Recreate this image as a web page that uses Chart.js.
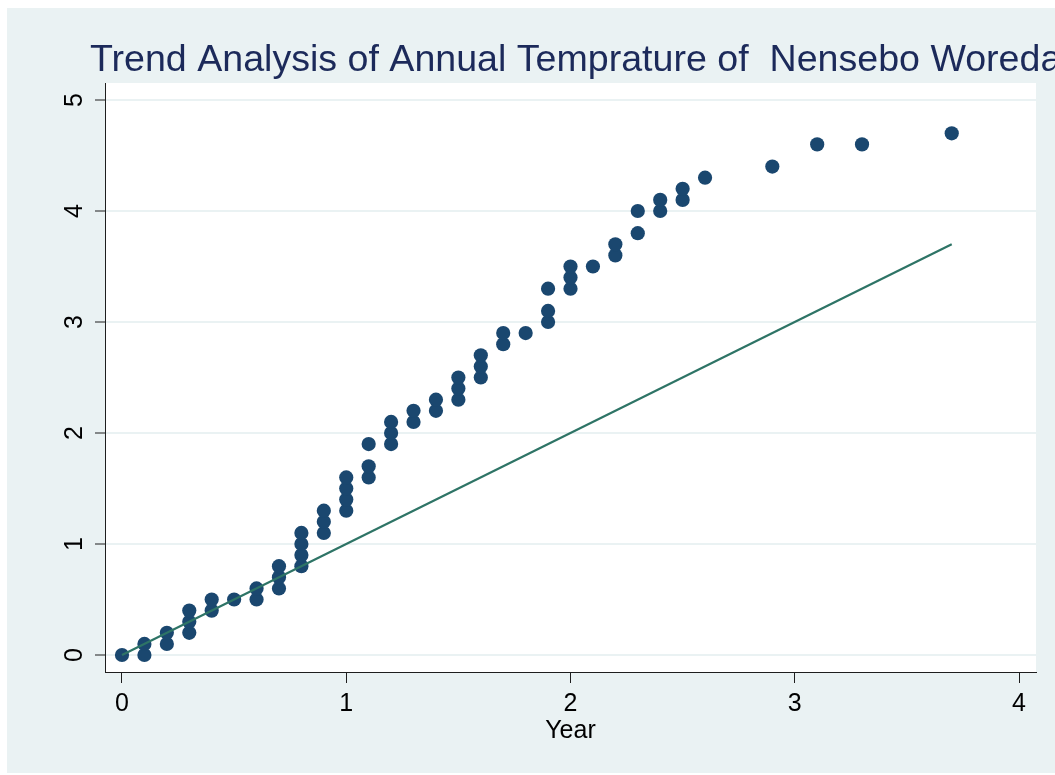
<!DOCTYPE html>
<html><head><meta charset="utf-8">
<script src="https://cdn.jsdelivr.net/npm/chart.js@4.4.1/dist/chart.umd.min.js"></script>
<style>html,body{margin:0;padding:0;background:#fff;overflow:hidden}canvas{display:block}</style>
</head><body>
<canvas id="c" width="1055" height="775"></canvas>
<script>
const titleText = 'Trend Analysis of Annual Temprature of  Nensebo Woreda';
const xAxisTitle = 'Year';
const xTicks = [0, 1, 2, 3, 4];
const yTicks = [0, 1, 2, 3, 4, 5];
const obsX = [0, 0.1,0.1, 0.2,0.2, 0.3,0.3,0.3, 0.4,0.4, 0.5, 0.6,0.6, 0.7,0.7,0.7, 0.8,0.8,0.8,0.8, 0.9,0.9,0.9, 1.0,1.0,1.0,1.0, 1.1,1.1,1.1, 1.2,1.2,1.2, 1.3,1.3, 1.4,1.4, 1.5,1.5,1.5, 1.6,1.6,1.6, 1.7,1.7, 1.8, 1.9,1.9,1.9, 2.0,2.0,2.0, 2.1, 2.2,2.2, 2.3,2.3, 2.4,2.4, 2.5,2.5, 2.6, 2.9, 3.1, 3.3, 3.7];
const obsY = [0, 0,0.1, 0.1,0.2, 0.2,0.3,0.4, 0.4,0.5, 0.5, 0.5,0.6, 0.6,0.7,0.8, 0.8,0.9,1.0,1.1, 1.1,1.2,1.3, 1.3,1.4,1.5,1.6, 1.6,1.7,1.9, 1.9,2.0,2.1, 2.1,2.2, 2.2,2.3, 2.3,2.4,2.5, 2.5,2.6,2.7, 2.8,2.9, 2.9, 3.0,3.1,3.3, 3.3,3.4,3.5, 3.5, 3.6,3.7, 3.8,4.0, 4.0,4.1, 4.1,4.2, 4.3, 4.4, 4.6, 4.6, 4.7];
const lineX = [0, 3.7];
const lineY = [0, 3.7];

const FONT = '"Liberation Sans", Arial, Helvetica, sans-serif';
Chart.defaults.font.family = FONT;
const BG = '#eaf2f3';
const AXIS = '#1e1e1e';

const bgPlugin = {
  id: 'bgPlugin',
  beforeDraw(chart) {
    const {ctx, chartArea: a} = chart;
    ctx.save();
    ctx.fillStyle = '#ffffff';
    ctx.fillRect(0, 0, chart.width, chart.height);
    ctx.fillStyle = BG;
    ctx.fillRect(7, 8, chart.width - 7, 765);
    ctx.fillStyle = '#ffffff';
    ctx.fillRect(a.left, a.top, a.right - a.left, a.bottom - a.top);
    ctx.restore();
  },
  afterDraw(chart) {
    const ctx = chart.ctx;
    ctx.save();
    ctx.font = '37.6px ' + FONT;
    ctx.fillStyle = '#1c2a5a';
    ctx.textBaseline = 'alphabetic';
    ctx.textAlign = 'left';
    ctx.fillText(titleText, 90, 71);
    ctx.restore();
  }
};

new Chart(document.getElementById('c'), {
  type: 'scatter',
  data: {
    datasets: [
      {
        label: 'line',
        data: lineX.map((x, i) => ({x, y: lineY[i]})),
        showLine: true,
        borderColor: '#2e7466',
        borderWidth: 2.2,
        pointRadius: 0,
        fill: false
      },
      {
        label: 'obs',
        data: obsX.map((x, i) => ({x, y: obsY[i]})),
        pointRadius: 7.1,
        pointBackgroundColor: '#1a476f',
        pointBorderWidth: 0,
        borderColor: '#1a476f'
      }
    ]
  },
  options: {
    responsive: false,
    devicePixelRatio: 1,
    animation: false,
    layout: { padding: { left: 0, top: 83, right: 19, bottom: 0 } },
    plugins: { legend: { display: false }, tooltip: { enabled: false }, title: { display: false } },
    scales: {
      x: {
        type: 'linear',
        min: -0.0758,
        max: 4.0758,
        afterBuildTicks: s => { s.ticks = xTicks.map(v => ({value: v})); },
        afterFit: s => { s.height = 103; },
        ticks: { font: { size: 25 }, color: '#000', padding: 6, autoSkip: false, maxRotation: 0 },
        grid: { drawOnChartArea: false, drawTicks: true, tickLength: 11, tickColor: AXIS, tickWidth: 1 },
        border: { display: true, color: AXIS, width: 1 },
        title: { display: true, text: xAxisTitle, font: { size: 25 }, color: '#000', padding: { top: 0, bottom: 29 } }
      },
      y: {
        type: 'linear',
        min: -0.153,
        max: 5.153,
        afterBuildTicks: s => { s.ticks = yTicks.map(v => ({value: v})); },
        afterFit: s => { s.width = 105; },
        ticks: { font: { size: 25 }, color: '#000', padding: 13, autoSkip: false, minRotation: 90, maxRotation: 90, crossAlign: 'center' },
        grid: { color: BG, lineWidth: 2, drawTicks: true, tickLength: 10, tickColor: AXIS, tickWidth: 1 },
        border: { display: true, color: AXIS, width: 1 }
      }
    }
  },
  plugins: [bgPlugin]
});
</script>
</body></html>
